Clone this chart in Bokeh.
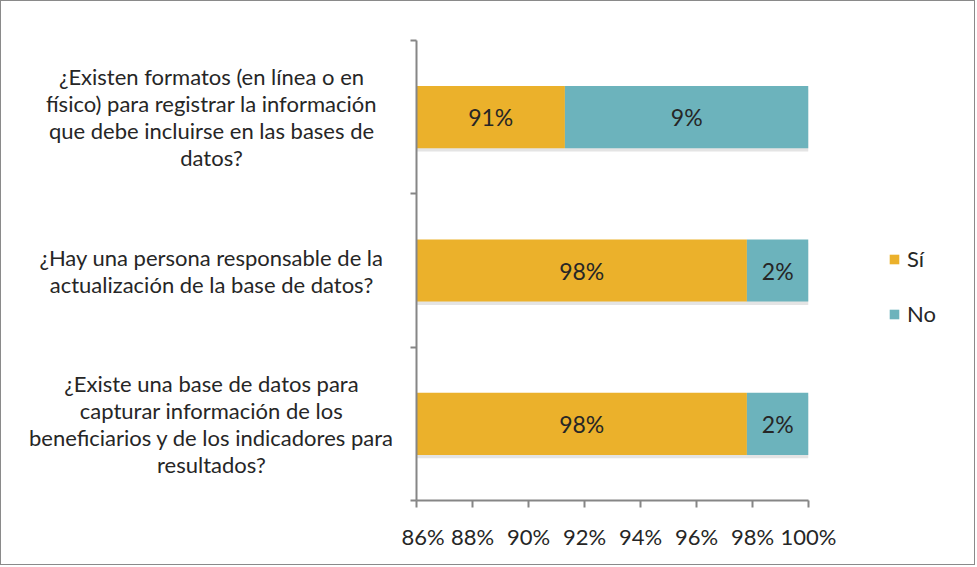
from bokeh.plotting import figure
from bokeh.layouts import row
from bokeh.models import (Range1d, FixedTicker, Legend, LegendItem,
                          ColumnDataSource, CustomJSTickFormatter)
from bokeh.core.properties import value
from bokeh.embed import file_html
from bokeh.resources import INLINE

# ---- data (top to bottom) ----
questions = [
    "¿Existen formatos (en línea o en\nfísico) para registrar la información\nque debe incluirse en las bases de\ndatos?",
    "¿Hay una persona responsable de la\nactualización de la base de datos?",
    "¿Existe una base de datos para\ncapturar información de los\nbeneficiarios y de los indicadores para\nresultados?",
]
si_values = [91.3, 97.8, 97.8]
no_values = [8.7, 2.2, 2.2]
series_names = ["Sí", "No"]
x_ticks = [86, 88, 90, 92, 94, 96, 98, 100]

XMIN, XMAX = 86, 100
FONT = "Lato"
TXT = "#262626"
C_SI = "#EBB12B"
C_NO = "#6CB3BC"
AX = "#868686"

n = len(questions)
ys = [n - i - 0.5 for i in range(n)]
si_left = [0] * n
si_right = si_values
no_left = si_values
no_right = [s + v for s, v in zip(si_values, no_values)]

src = ColumnDataSource(dict(
    y=ys, ys=[y - 0.022 for y in ys],
    si_l=si_left, si_r=si_right, no_l=no_left, no_r=no_right,
    si_x=[(max(XMIN, l) + r) / 2 for l, r in zip(si_left, si_right)],
    no_x=[(max(XMIN, l) + min(XMAX, r)) / 2 for l, r in zip(no_left, no_right)],
    si_t=[f"{round(v)}%" for v in si_values],
    no_t=[f"{round(v)}%" for v in no_values],
))

TOP, BOTTOM = 39, 64
H = 563
LAB_W = 400
P_LEFT, FRAME_W, P_RIGHT = 15, 392, 35
P_W = P_LEFT + FRAME_W + P_RIGHT
LEG_W = 973 - LAB_W - P_W
yr = Range1d(0, n)

# ---- left panel with the question texts ----
lab = figure(width=LAB_W, height=H, output_backend="svg", toolbar_location=None,
             x_range=Range1d(0, 1), y_range=yr, x_axis_type=None, y_axis_type=None,
             min_border_left=0, min_border_right=0, min_border_top=TOP,
             min_border_bottom=BOTTOM)
lab.outline_line_color = None
lab.grid.visible = False
lab.text(x=[0.525] * n, y=ys, text=questions, text_align="center",
         text_baseline="middle", text_font=value(FONT), text_font_size="22px",
         text_color=TXT, text_line_height=1.0)

# ---- main chart ----
p = figure(width=P_W, height=H, output_backend="svg", toolbar_location=None,
           x_range=Range1d(XMIN, XMAX), y_range=yr,
           min_border_left=P_LEFT, min_border_right=P_RIGHT, min_border_top=TOP,
           min_border_bottom=BOTTOM)
p.outline_line_color = None
p.xgrid.visible = False
p.ygrid.visible = False

h = 0.405
p.hbar(y="ys", left="si_l", right="no_r", height=h, source=src,
       fill_color="#e4e4e4", line_color=None)
r_si = p.hbar(y="y", left="si_l", right="si_r", height=h, source=src,
              fill_color=C_SI, line_color=None)
r_no = p.hbar(y="y", left="no_l", right="no_r", height=h, source=src,
              fill_color=C_NO, line_color=None)

for xcol, tcol in (("si_x", "si_t"), ("no_x", "no_t")):
    p.text(x=xcol, y="y", text=tcol, source=src, text_align="center",
           text_baseline="middle", text_font=value(FONT), text_font_size="23px",
           text_color=TXT)

p.xaxis.ticker = FixedTicker(ticks=x_ticks)
p.xaxis.formatter = CustomJSTickFormatter(code="return tick + '%';")
p.xaxis.major_label_text_font = FONT
p.xaxis.major_label_text_font_size = "22px"
p.xaxis.major_label_text_color = TXT
p.xaxis.major_label_standoff = 15
p.xaxis.axis_line_color = AX
p.xaxis.axis_line_width = 2
p.xaxis.major_tick_line_color = AX
p.xaxis.major_tick_line_width = 2
p.xaxis.major_tick_in = 0
p.xaxis.major_tick_out = 7
p.xaxis.minor_tick_line_color = None

p.yaxis.ticker = FixedTicker(ticks=list(range(n + 1)))
p.yaxis.major_label_overrides = {i: "" for i in range(n + 1)}
p.yaxis.axis_line_color = AX
p.yaxis.axis_line_width = 2
p.yaxis.major_tick_line_color = AX
p.yaxis.major_tick_line_width = 2
p.yaxis.major_tick_in = 0
p.yaxis.major_tick_out = 6
p.yaxis.minor_tick_line_color = None

# ---- legend panel ----
leg = figure(width=LEG_W, height=H, output_backend="svg", toolbar_location=None,
             x_range=Range1d(XMIN, XMAX), y_range=yr, x_axis_type=None, y_axis_type=None,
             min_border_left=0, min_border_right=0, min_border_top=TOP,
             min_border_bottom=BOTTOM)
leg.outline_line_color = None
leg.grid.visible = False
l_si = leg.hbar(y="y", left="si_l", right="si_r", height=h, source=src,
                fill_color=C_SI, line_color=None, visible=False)
l_no = leg.hbar(y="y", left="no_l", right="no_r", height=h, source=src,
                fill_color=C_NO, line_color=None, visible=False)
legend = Legend(items=[LegendItem(label=series_names[0], renderers=[l_si]),
                       LegendItem(label=series_names[1], renderers=[l_no])],
                location=(45, 173), orientation="vertical",
                label_text_font=FONT, label_text_font_size="22px",
                label_text_color=TXT, glyph_width=12, glyph_height=12,
                label_standoff=7, spacing=28, padding=0, margin=0,
                border_line_color=None, background_fill_alpha=0,
                inactive_fill_alpha=0, click_policy="none")
leg.add_layout(legend, "center")

layout = row(lab, p, leg)
layout.styles = {"border": "1px solid #8a8a8a"}

open("out.html", "w").write(file_html(layout, INLINE))
